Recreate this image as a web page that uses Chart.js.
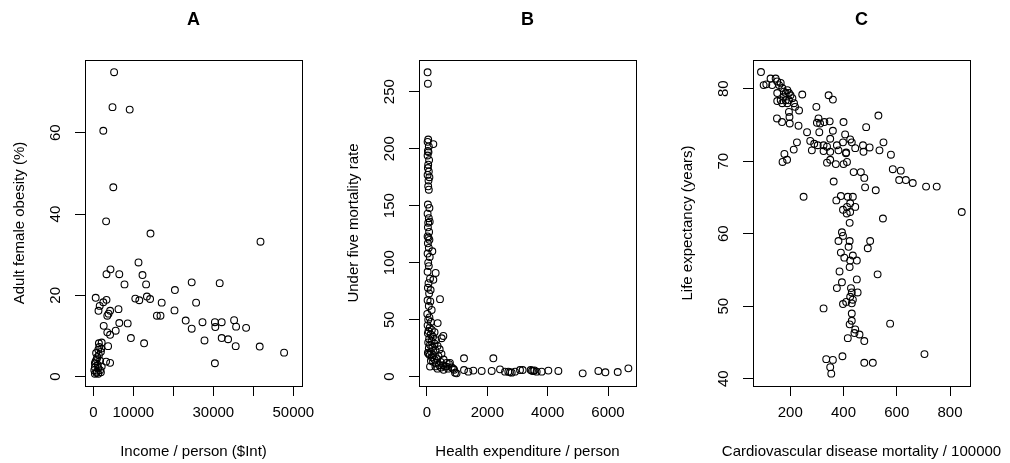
<!DOCTYPE html>
<html>
<head>
<meta charset="utf-8">
<script src="https://cdn.jsdelivr.net/npm/chart.js@4"></script>
<style>
  html, body { margin: 0; padding: 0; background: #fff; }
  #wrap { position: relative; width: 1010px; height: 463px; background: #fff; }
  #wrap canvas { position: absolute; left: 0; top: 0; }
</style>
</head>
<body>
<div id="wrap">
  <canvas id="chartA" width="1010" height="463"></canvas>
  <canvas id="chartB" width="1010" height="463"></canvas>
  <canvas id="chartC" width="1010" height="463"></canvas>
</div>
<script>
// Panel A: income vs adult female obesity
const incomeA = [5200, 4800, 9100, 2500, 5000, 3200, 14300, 41800, 11300, 4300, 3300, 6500, 12300, 7800, 13200, 24600, 31600, 20400,
  600, 3300, 2500, 10500, 11500, 13400, 14200, 17100, 25700, 1600, 1300, 4200, 6300, 3800, 3500, 15900, 16800, 20300, 23100,
  27300, 30400, 32100, 35200, 6500, 8600, 2600, 30500, 35700, 38200, 24600, 5600, 3500, 4200, 9400, 32100, 33700, 27800, 12700,
  3700, 35600, 41600, 47700, 30400, 4200, 3200,
  1400, 2100, 1250, 1900, 1400, 850, 1700, 400, 1100, 400, 1250, 250, 850, 1700, 400, 1250, 2100, 700, 1000, 600, 1900, 800, 2000, 1500];
const obesityA = [74.9, 66.3, 65.7, 60.5, 46.6, 38.2, 35.2, 33.2, 28.1, 26.4, 25.2, 25.2, 25.0, 22.7, 22.7, 23.2, 23.0, 21.3,
  19.4, 18.9, 18.3, 19.2, 18.8, 19.7, 19.1, 18.2, 18.2, 17.4, 16.2, 16.2, 16.6, 15.5, 15.0, 15.0, 15.0, 16.3, 13.8,
  13.4, 13.4, 13.4, 13.9, 13.2, 13.1, 12.5, 12.2, 12.3, 12.0, 11.8, 11.3, 10.9, 10.3, 9.5, 9.5, 9.2, 8.9, 8.2,
  7.5, 7.5, 7.4, 5.9, 3.3, 3.4, 3.7,
  8.2, 8.4, 6.6, 6.1, 5.3, 4.3, 3.9, 3.3, 2.9, 2.3, 2.1, 1.6, 1.2, 1.6, 0.7, 0.7, 2.5, 5.8, 4.8, 3.8, 1.1, 0.9, 6.9, 7.3];
const xTicksA = [0, 10000, 20000, 30000, 40000, 50000];
const xLabelsA = ["0", "10000", "", "30000", "", "50000"];
const yTicksA = [0, 20, 40, 60];

// Panel B: health expenditure vs under five mortality
const healthB = [20, 30, 40, 20, 210, 60, 30, 50, 20, 70, 40, 30, 60, 20, 80, 50, 40, 60, 30, 80, 20, 60, 90, 40, 30, 70,
  20, 50, 80, 30, 60, 177, 20, 90, 40, 60, 287, 20, 210, 100, 50, 30, 120, 70, 431, 20, 110, 60, 155, 10, 80, 40, 354,
  130, 20, 90, 160, 50, 250, 30, 120, 542, 486, 200, 70, 300, 150, 40, 250, 100, 350, 180, 60, 420, 280, 130, 30, 480,
  210, 90, 380, 160, 50, 320, 250, 550, 130, 450, 200, 650, 300, 730, 400, 100, 540, 600, 280, 470, 820, 350, 700, 900,
  760, 650, 550, 930, 980, 870,
  1227, 2199, 1227, 1370, 1536, 1812, 2144, 2420, 2586, 2696, 2807, 2917, 3083, 3171, 3437, 3525, 3635, 3801, 4022,
  4354, 5160, 5680, 5912, 6321, 6674, 3560, 2750, 3480];
const u5mrB = [267, 257, 208, 206, 204, 202, 198, 197, 194, 190, 186, 183, 180, 177, 175, 172, 167, 164, 151, 148, 143, 139,
  136, 135, 131, 127, 123, 122, 120, 117, 113, 110, 108, 105, 100, 97, 91, 92, 85, 86, 82, 78, 76, 73, 68, 67, 66, 62,
  58.5, 55, 52, 50, 47, 48, 45, 43, 41, 40, 39, 38, 37, 35.7, 33.7, 35, 33, 32, 31, 30, 29, 28, 27, 26, 25, 24, 23, 22,
  21, 20, 19, 19, 18, 17, 20, 16, 15, 15, 14, 13, 13, 12, 12, 11, 10, 8.8, 10, 9, 9, 8, 8, 7, 7, 6,
  12, 8.8, 6, 3.5, 2.9, 7,
  16.1, 16.1, 5.8, 4.4, 5.3, 5.0, 5.0, 6.4, 4.4, 4.4, 3.5, 4.4, 5.8, 5.8, 5.8, 5.0, 4.4, 4.4, 5.3,
  5.0, 2.9, 5.0, 3.8, 4.1, 7.3, 5.5, 3.8, 5.2];
const xTicksB = [0, 2000, 4000, 6000];
const xLabelsB = ["0", "2000", "4000", "6000"];
const yTicksB = [0, 50, 100, 150, 200, 250];

// Panel C: cardiovascular mortality vs life expectancy
const cvdC = [90, 100, 110, 126, 132, 145, 151, 158, 164, 151, 170, 176, 183, 189, 195, 201, 176, 183, 164, 195, 208, 151,
  170, 189, 214, 218, 245, 195, 233, 197, 298, 344, 360, 150, 169, 198, 231, 263, 300, 306, 312, 328, 348, 400, 531,
  485, 309, 360, 406, 350, 425, 275, 225, 290, 303, 325, 338, 375, 398, 431, 473, 498, 444, 281, 213, 325, 350, 381,
  410, 475, 535, 550, 178, 171, 188, 338, 350, 371, 400, 413, 409, 578, 438, 465, 478, 585, 615, 609, 634, 660, 710,
  750, 363, 481, 521, 250, 373, 390, 416, 435, 444, 425, 413, 398, 412, 425, 423, 548, 844, 394, 398, 381, 423, 419,
  500, 491, 390, 403, 435, 425, 450, 423, 385, 528, 450, 394, 375, 428, 431, 453, 425, 435, 398, 410, 431, 325, 431,
  431, 423, 575, 444, 441, 460, 416, 478, 335, 360, 350, 354, 396, 478, 510, 704];
const lifeC = [82.3, 80.5, 80.6, 81.4, 80.5, 81.4, 81.0, 80.5, 80.8, 79.4, 80.1, 79.6, 79.4, 79.8, 79.4, 79.1, 78.9, 78.4,
  78.4, 78.4, 78.7, 78.3, 78.0, 78.0, 78.0, 77.5, 79.2, 76.8, 77.0, 76.1, 77.5, 79.1, 78.5, 75.9, 75.4, 75.2, 74.9,
  74.0, 75.3, 75.9, 75.2, 75.4, 75.5, 75.4, 76.3, 74.7, 74.0, 74.2, 73.7, 73.1, 73.0, 72.8, 72.6, 72.4, 72.2, 72.2,
  72.0, 72.2, 72.6, 72.6, 72.2, 71.9, 71.8, 71.5, 71.6, 71.4, 71.3, 71.5, 71.2, 71.3, 71.5, 72.6, 71.0, 69.9, 70.2,
  69.8, 70.2, 69.6, 69.6, 69.9, 71.1, 70.9, 68.5, 68.5, 67.7, 68.9, 68.7, 67.4, 67.4, 67.0, 66.5, 66.5, 67.2, 66.4,
  66.0, 65.1, 64.6, 65.2, 65.1, 65.1, 63.7, 64.2, 63.7, 63.3, 62.8, 63.0, 61.5, 62.1, 63.0, 60.2, 59.7, 59.0, 59.0,
  58.2, 59.0, 58.0, 57.4, 56.7, 57.0, 56.3, 56.3, 55.4, 54.8, 54.4, 53.7, 53.3, 52.5, 52.5, 51.9, 51.9, 51.3, 50.9,
  50.3, 50.6, 50.4, 49.7, 49.0, 48.0, 47.5, 47.6, 46.8, 46.3, 46.1, 45.6, 45.2, 42.7, 42.6, 41.6, 40.7, 43.1, 42.2,
  42.2, 43.4];
const xTicksC = [200, 400, 600, 800];
const xLabelsC = ["200", "400", "600", "800"];
const yTicksC = [40, 50, 60, 70, 80];

const FONT = "'Liberation Sans', Arial, Helvetica, sans-serif";
const W = 1010, H = 463;

// frame round the plot region plus the axis titles (no width squeeze, like R's mtext)
const framePlugin = {
  id: "rframe",
  afterDraw(chart, args, opts) {
    const a = chart.chartArea;
    const ctx = chart.ctx;
    ctx.save();
    ctx.strokeStyle = "#000";
    ctx.lineWidth = 1;
    ctx.strokeRect(Math.round(a.left) + 0.5, Math.round(a.top) + 0.5,
      Math.round(a.right - a.left), Math.round(a.bottom - a.top));

    ctx.fillStyle = "#000";
    ctx.font = "15px " + FONT;
    ctx.textAlign = "center";
    ctx.textBaseline = "middle";
    ctx.fillText(opts.xTitle, (a.left + a.right) / 2, 452);
    ctx.translate(a.left - 65, (a.top + a.bottom) / 2);
    ctx.rotate(-Math.PI / 2);
    ctx.fillText(opts.yTitle, 0, 0);
    ctx.restore();
  }
};

function makePanel(id, p) {
  const pts = p.xs.map((x, i) => ({ x, y: p.ys[i] }));
  const yWidth = 85;
  return new Chart(document.getElementById(id), {
    type: "scatter",
    data: {
      datasets: [{
        data: pts,
        pointStyle: "circle",
        pointRadius: 3.4,
        pointBorderWidth: 1.1,
        pointBorderColor: "#000",
        pointBackgroundColor: "rgba(0,0,0,0)"
      }]
    },
    options: {
      responsive: false,
      animation: false,
      events: [],
      layout: { padding: { left: p.box.left - yWidth, right: W - p.box.right, top: 0, bottom: 0 } },
      plugins: {
        legend: { display: false },
        tooltip: { enabled: false },
        title: {
          display: true, text: p.title, fullSize: false, color: "#000",
          font: { family: FONT, size: 18, weight: "bold" },
          padding: { top: 9, bottom: p.box.top - 9 - 21.6 }
        },
        rframe: { xTitle: p.xTitle, yTitle: p.yTitle }
      },
      scales: {
        x: {
          type: "linear", min: p.xmin, max: p.xmax,
          afterBuildTicks: s => { s.ticks = p.xTicks.map(v => ({ value: v })); },
          afterFit: s => { s.height = H - p.box.bottom; },
          ticks: { callback: (v, i) => p.xLabels[i], autoSkip: false, maxRotation: 0, padding: 8, color: "#000",
            font: { family: FONT, size: 15 } },
          grid: { drawOnChartArea: false, drawTicks: true, tickLength: 10, color: "#000", lineWidth: 1 },
          border: { display: false }
        },
        y: {
          type: "linear", min: p.ymin, max: p.ymax,
          afterBuildTicks: s => { s.ticks = p.yTicks.map(v => ({ value: v })); },
          afterFit: s => { s.width = yWidth; },
          ticks: { callback: v => String(v), autoSkip: false, minRotation: 90, maxRotation: 90, crossAlign: "center",
            padding: p.yPad, color: "#000", font: { family: FONT, size: 15 } },
          grid: { drawOnChartArea: false, drawTicks: true, tickLength: 10, color: "#000", lineWidth: 1 },
          border: { display: false }
        }
      }
    },
    plugins: [framePlugin]
  });
}

makePanel("chartA", {
  title: "A", xs: incomeA, ys: obesityA,
  box: { left: 85, right: 302, top: 60, bottom: 386 },
  xmin: -2075, xmax: 52175, ymin: -2.3, ymax: 77.9,
  xTicks: xTicksA, xLabels: xLabelsA, yTicks: yTicksA, yPad: 10.7,
  xTitle: "Income / person ($Int)", yTitle: "Adult female obesity (%)"
});
makePanel("chartB", {
  title: "B", xs: healthB, ys: u5mrB,
  box: { left: 419, right: 636, top: 60, bottom: 386 },
  xmin: -265, xmax: 6927, ymin: -8.2, ymax: 277.8,
  xTicks: xTicksB, xLabels: xLabelsB, yTicks: yTicksB, yPad: 6.5,
  xTitle: "Health expenditure / person", yTitle: "Under five mortality rate"
});
makePanel("chartC", {
  title: "C", xs: cvdC, ys: lifeC,
  box: { left: 753, right: 970, top: 60, bottom: 386 },
  xmin: 60, xmax: 875, ymin: 39.0, ymax: 83.96,
  xTicks: xTicksC, xLabels: xLabelsC, yTicks: yTicksC, yPad: 10.7,
  xTitle: "Cardiovascular disease mortality / 100000", yTitle: "Life expectancy (years)"
});
</script>
</body>
</html>
